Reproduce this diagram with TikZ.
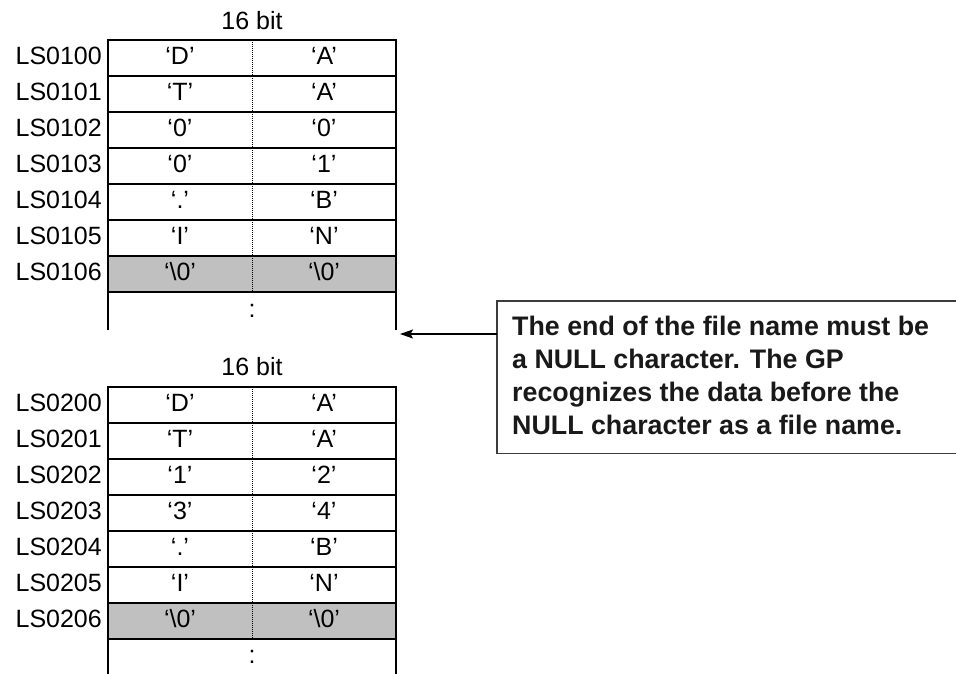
\documentclass[tikz,border=0pt]{standalone}
\usepackage{fontspec}
\setmainfont{Liberation Sans}
\usetikzlibrary{arrows.meta}
\definecolor{nullgray}{RGB}{192,192,192}
\definecolor{boxgray}{RGB}{60,60,60}
\begin{document}
\begin{tikzpicture}[x=1pt,y=-1pt,
  cellline/.style={line width=2.3pt, line cap=rect},
  divider/.style={line width=0.9pt, dash pattern=on 1pt off 1pt},
  lbl/.style={anchor=base east, inner sep=0pt, font=\fontsize{25}{30}\selectfont},
  celltxt/.style={anchor=base, inner sep=0pt, font=\fontsize{25}{30}\selectfont},
  boxline/.style={draw=boxgray, line width=1.3pt},
  arrowline/.style={line width=1.3pt, -{Stealth[length=13pt,width=9pt,inset=2.5pt]}},
  notetext/.style={anchor=north west, inner sep=0pt, align=left,
    font=\fontsize{26.8}{33}\selectfont\bfseries, text=black!90}
]
\useasboundingbox (0,0) rectangle (956,673);

% ---------- top table ----------
\fill[nullgray] (108,40+216) rectangle (396,40+252);
\foreach \k in {0,...,7} \draw[cellline] (108,40+36*\k) -- (396,40+36*\k);
\draw[cellline] (108,40) -- (108,329);
\draw[cellline] (396,40) -- (396,329);
\draw[divider] (252,40) -- (252,40+252);
\node[celltxt] (hA) at (252,29.5) {16 bit};
\foreach \i/\a/\b in {0/D/A,1/T/A,2/0/0,3/0/1,4/./B,5/I/N,6/\textbackslash 0/\textbackslash 0}{
  \node[lbl] (la\i) at (102,40+36*\i+24.5) {LS010\i};
  \node[celltxt] (ca\i) at (180,40+36*\i+24.5) {‘\a’};
  \node[celltxt] (da\i) at (324,40+36*\i+24.5) {‘\b’};
}
\node[celltxt] (colA) at (252,317) {:};

% ---------- bottom table ----------
\fill[nullgray] (108,387+216) rectangle (396,387+252);
\foreach \k in {0,...,7} \draw[cellline] (108,387+36*\k) -- (396,387+36*\k);
\draw[cellline] (108,387) -- (108,675);
\draw[cellline] (396,387) -- (396,675);
\draw[divider] (252,387) -- (252,387+252);
\node[celltxt] (hB) at (252,375) {16 bit};
\foreach \i/\a/\b in {0/D/A,1/T/A,2/1/2,3/3/4,4/./B,5/I/N,6/\textbackslash 0/\textbackslash 0}{
  \node[lbl] (lb\i) at (102,387+36*\i+24.5) {LS020\i};
  \node[celltxt] (cb\i) at (180,387+36*\i+24.5) {‘\a’};
  \node[celltxt] (db\i) at (324,387+36*\i+24.5) {‘\b’};
}
\node[celltxt] (colB) at (252,663) {:};

% ---------- callout ----------
\node[anchor=north west, inner sep=0pt, minimum width=459pt, minimum height=152pt] (note) at (497,301) {};
\draw[boxline] (note.north east) -- (note.north west) -- (note.south west) -- (note.south east);
\node[notetext] (notetxt) at (512,316.3)
  {The end of the file name must be\\a NULL character. The GP\\recognizes the data before the\\NULL character as a file name.};
\coordinate (tip) at (400,334);
\draw[arrowline] (note.west |- tip) -- (tip);
\end{tikzpicture}
\end{document}
